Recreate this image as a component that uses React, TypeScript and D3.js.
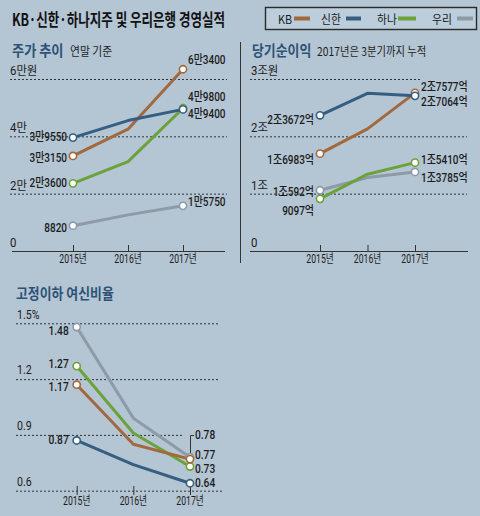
import React from 'react';
import * as d3 from 'd3';

const years = ['2015년', '2016년', '2017년'];
const seriesNames = ['KB', '신한', '하나', '우리'];

// 주가 (원)
const stockKB = [33150, 42500, 63400];
const stockShinhan = [39550, 45500, 49400];
const stockHana = [23600, 31200, 49800];
const stockWoori = [8820, 12600, 15750];
const stockTicks = [0, 20000, 40000, 60000];
const stockTickLabels = ['0', '2만', '4만', '6만원'];

// 당기순이익 (억원)
const profitKB = [16983, 21300, 27577];
const profitShinhan = [23672, 27500, 27064];
const profitHana = [9097, 13400, 15410];
const profitWoori = [10592, 12800, 13785];
const profitTicks = [0, 10000, 20000, 30000];
const profitTickLabels = ['0', '1조', '2조', '3조원'];

// 고정이하 여신비율 (%)
const nplKB = [1.17, 0.85, 0.77];
const nplShinhan = [0.87, 0.74, 0.64];
const nplHana = [1.27, 0.91, 0.73];
const nplWoori = [1.48, 0.99, 0.78];
const nplTicks = [0.6, 0.9, 1.2, 1.5];
const nplTickLabels = ['0.6', '0.9', '1.2', '1.5%'];

const COLORS: Record<string, string> = {
  KB: '#a2693d',
  신한: '#355e80',
  하나: '#6ca23a',
  우리: '#8e9ba7',
};
const BG = '#b4c5d4';
const DARK = '#1c1c1c';
const TITLE_BLUE = '#2d5275';
const NUM_FONT = "'Roboto', 'Noto Sans CJK KR', sans-serif";
const KO_FONT = "'Noto Sans CJK KR', 'Noto Sans', sans-serif";

const fmtWon = (v: number) => (v >= 10000 ? `${Math.floor(v / 10000)}만${String(v % 10000).padStart(4, '0')}` : `${v}`);
const fmtEok = (v: number) => (v >= 10000 ? `${Math.floor(v / 10000)}조${v % 10000}억` : `${v}억`);
const fmtPct = (v: number) => v.toFixed(2);

type CProps = {
  x: number;
  y: number;
  sx?: number;
  size?: number;
  anchor?: 'start' | 'middle' | 'end';
  children: React.ReactNode;
  font?: string;
  fill?: string;
  weight?: number;
};

// condensed text: horizontal squeeze around the anchor point
function CText({ x, y, sx = 0.8, size = 12.5, anchor = 'start', children, font = NUM_FONT, fill = DARK, weight = 400 }: CProps) {
  return (
    <text
      transform={`translate(${x},${y}) scale(${sx},1)`}
      textAnchor={anchor}
      dominantBaseline="central"
      fontFamily={font}
      fontSize={size}
      fontWeight={weight}
      fill={fill}
    >
      {children}
    </text>
  );
}

type Lab = { dx: number; dy: number };

type PanelProps = {
  data: number[][];
  fmt: (v: number) => string;
  x: d3.ScalePoint<string>;
  y: d3.ScaleLinear<number, number>;
  leftLabs: Lab[];
  rightLabs: Lab[];
  size?: number;
  sx?: number;
};

const order = [3, 2, 0, 1];

function Lines({ data, fmt, x, y, leftLabs, rightLabs, size = 12.5, sx = 0.8 }: PanelProps) {
  const line = d3
    .line<number>()
    .x((_, i) => x(years[i]) as number)
    .y((d) => y(d));
  return (
    <g>
      {order.map((si) => (
        <path key={'l' + si} d={line(data[si]) || ''} fill="none" stroke={COLORS[seriesNames[si]]} strokeWidth={3} strokeLinejoin="round" />
      ))}
      {order.map((si) =>
        [0, 2].map((i) => (
          <circle key={'c' + si + i} cx={x(years[i])} cy={y(data[si][i])} r={3.6} fill="#fff" stroke={COLORS[seriesNames[si]]} strokeWidth={1.6} />
        ))
      )}
      {data.map((vals, si) => (
        <g key={'t' + si}>
          <CText x={(x(years[0]) as number) + leftLabs[si].dx} y={y(vals[0]) + leftLabs[si].dy} anchor="end" size={size} sx={sx} weight={500}>
            {fmt(vals[0])}
          </CText>
          <CText x={(x(years[2]) as number) + rightLabs[si].dx} y={y(vals[2]) + rightLabs[si].dy} anchor="start" size={size} sx={sx} weight={500}>
            {fmt(vals[2])}
          </CText>
        </g>
      ))}
    </g>
  );
}

export default function App() {
  const yTop = d3.scaleLinear().domain([0, 60000]).range([251, 79]);
  const xStock = d3.scalePoint<string>().domain(years).range([73, 183]);
  const yProfit = d3.scaleLinear().domain([0, 30000]).range([251, 79]);
  const xProfit = d3.scalePoint<string>().domain(years).range([320, 415]);
  const yNpl = d3.scaleLinear().domain([0.6, 1.5]).range([490.7, 323.3]);
  const xNpl = d3.scalePoint<string>().domain(years).range([76.7, 190]);

  const stockData = [stockKB, stockShinhan, stockHana, stockWoori];
  const profitData = [profitKB, profitShinhan, profitHana, profitWoori];
  const nplData = [nplKB, nplShinhan, nplHana, nplWoori];

  const legendItems = [
    { name: 'KB', tx: 278, sx: 294, sw: 16 },
    { name: '신한', tx: 321, sx: 346, sw: 15 },
    { name: '하나', tx: 377, sx: 398, sw: 18 },
    { name: '우리', tx: 432, sx: 457, sw: 16 },
  ];

  return (
    <svg width={480} height={516} style={{ position: 'absolute', left: 0, top: 0, display: 'block' }}>
      <rect width={480} height={516} fill={BG} />

      {/* header */}
      <CText x={12} y={19} sx={0.76} size={16.5} font={KO_FONT} weight={700} fill="#111">
        KB·신한·하나지주 및 우리은행 경영실적
      </CText>
      <rect x={265.5} y={7.5} width={211} height={22} fill="#bccddb" stroke="#2a2a2a" strokeWidth={1.4} />
      {legendItems.map((it) => (
        <g key={it.name}>
          <CText x={it.tx} y={18.5} sx={0.9} size={12} font={KO_FONT} fill="#1a1a1a">
            {it.name}
          </CText>
          <rect x={it.sx} y={16.5} width={it.sw} height={4} fill={COLORS[it.name]} />
        </g>
      ))}

      {/* divider */}
      <line x1={240.5} x2={240.5} y1={42} y2={263} stroke="#333" strokeWidth={1} />

      {/* ---------- 주가 추이 ---------- */}
      <CText x={12} y={50} sx={0.88} size={15} font={KO_FONT} weight={700} fill={TITLE_BLUE}>
        주가 추이
      </CText>
      <CText x={70} y={51} sx={0.9} size={12} font={KO_FONT} fill="#1e1e1e">
        연말 기준
      </CText>
      {stockTicks.map((t, i) => (
        <g key={'st' + i}>
          {t !== 0 && <line x1={10} x2={227} y1={yTop(t) + 0.5} y2={yTop(t) + 0.5} stroke="#333" strokeWidth={1} strokeDasharray="2,2" />}
          <CText x={10} y={yTop(t) - 8} sx={0.95} size={12}>
            {stockTickLabels[i]}
          </CText>
        </g>
      ))}
      <line x1={12} x2={225} y1={251.5} y2={251.5} stroke="#333" strokeWidth={1.2} />
      {years.map((yr) => (
        <g key={'sx' + yr}>
          <line x1={(xStock(yr) as number) + 0.5} x2={(xStock(yr) as number) + 0.5} y1={245} y2={251} stroke="#333" />
          <CText x={xStock(yr) as number} y={258.5} anchor="middle" sx={0.72} size={12}>
            {yr}
          </CText>
        </g>
      ))}
      <Lines
        data={stockData}
        fmt={fmtWon}
        x={xStock}
        y={yTop}
        leftLabs={[
          { dx: -6, dy: 2 },
          { dx: -6, dy: 0 },
          { dx: -6, dy: 0 },
          { dx: -6, dy: 2 },
        ]}
        rightLabs={[
          { dx: 5, dy: -9 },
          { dx: 5, dy: 5 },
          { dx: 5, dy: -11 },
          { dx: 5, dy: -4 },
        ]}
      />

      {/* ---------- 당기순이익 ---------- */}
      <CText x={252} y={50} sx={0.86} size={15} font={KO_FONT} weight={700} fill={TITLE_BLUE}>
        당기순이익
      </CText>
      <CText x={317} y={51} sx={0.86} size={12} font={KO_FONT} fill="#1e1e1e">
        2017년은 3분기까지 누적
      </CText>
      {profitTicks.map((t, i) => (
        <g key={'pt' + i}>
          {t !== 0 && (
            <line x1={250} x2={t === 30000 ? 420 : 467} y1={yProfit(t) + 0.5} y2={yProfit(t) + 0.5} stroke="#333" strokeWidth={1} strokeDasharray="2,2" />
          )}
          <CText x={251} y={yProfit(t) - 8} sx={0.95} size={12}>
            {profitTickLabels[i]}
          </CText>
        </g>
      ))}
      <line x1={250} x2={468} y1={251.5} y2={251.5} stroke="#333" strokeWidth={1.2} />
      {years.map((yr) => (
        <g key={'px' + yr}>
          <line x1={(xProfit(yr) as number) + 0.5} x2={(xProfit(yr) as number) + 0.5} y1={245} y2={251} stroke="#333" />
          <CText x={xProfit(yr) as number} y={258.5} anchor="middle" sx={0.72} size={12}>
            {yr}
          </CText>
        </g>
      ))}
      <Lines
        data={profitData}
        fmt={fmtEok}
        x={xProfit}
        y={yProfit}
        leftLabs={[
          { dx: -6, dy: 7 },
          { dx: -6, dy: 5 },
          { dx: -6, dy: 12 },
          { dx: -6, dy: 1.5 },
        ]}
        rightLabs={[
          { dx: 6, dy: -6 },
          { dx: 6, dy: 6 },
          { dx: 6, dy: -2.5 },
          { dx: 6, dy: 6 },
        ]}
      />

      {/* ---------- 고정이하 여신비율 ---------- */}
      <CText x={16} y={293} sx={0.86} size={15} font={KO_FONT} weight={700} fill={TITLE_BLUE}>
        고정이하 여신비율
      </CText>
      {nplTicks.map((t, i) => (
        <g key={'nt' + i}>
          <line
            x1={16}
            x2={Math.abs(t - 0.9) < 1e-9 ? 183 : t === 0.6 ? 222 : 220}
            y1={yNpl(t) + 0.5}
            y2={yNpl(t) + 0.5}
            stroke="#333"
            strokeWidth={1}
            strokeDasharray="2,2"
          />
          <CText x={17} y={yNpl(t) - 9} sx={0.85} size={12.5}>
            {nplTickLabels[i]}
          </CText>
        </g>
      ))}
      {years.map((yr) => (
        <g key={'nx' + yr}>
          <line x1={(xNpl(yr) as number) + 0.5} x2={(xNpl(yr) as number) + 0.5} y1={486} y2={495} stroke="#333" />
          <CText x={xNpl(yr) as number} y={500.5} anchor="middle" sx={0.72} size={12}>
            {yr}
          </CText>
        </g>
      ))}
      {/* leader for 우리 0.78 */}
      <polyline
        points={`${(xNpl(years[2]) as number) + 0.5},${yNpl(nplWoori[2]) - 3} ${(xNpl(years[2]) as number) + 0.5},435.5 ${(xNpl(years[2]) as number) + 4},435.5`}
        fill="none"
        stroke="#333"
        strokeWidth={1}
      />
      <Lines
        data={nplData}
        fmt={fmtPct}
        x={xNpl}
        y={yNpl}
        size={12}
        sx={0.85}
        leftLabs={[
          { dx: -8, dy: 2.5 },
          { dx: -8, dy: 0 },
          { dx: -8, dy: -2 },
          { dx: -8, dy: 4 },
        ]}
        rightLabs={[
          { dx: 5, dy: -4 },
          { dx: 5, dy: 0 },
          { dx: 5, dy: 2.5 },
          { dx: 5, dy: -22 },
        ]}
      />
    </svg>
  );
}
